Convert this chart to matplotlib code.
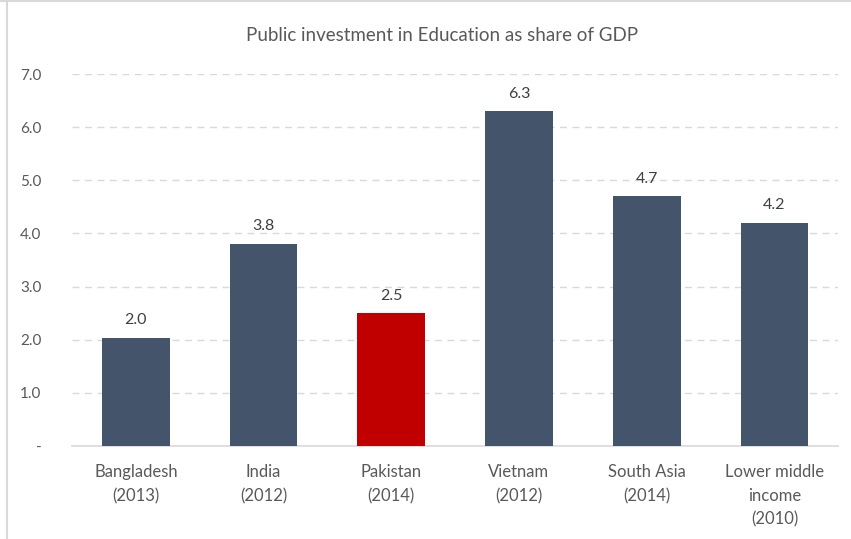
import matplotlib.pyplot as plt
from matplotlib.lines import Line2D

categories = ['Bangladesh\n(2013)', 'India\n(2012)', 'Pakistan\n(2014)',
              'Vietnam\n(2012)', 'South Asia\n(2014)', 'Lower middle\nincome\n(2010)']
values = [2.04, 3.8, 2.5, 6.3, 4.7, 4.2]
colors = ['#44546A', '#44546A', '#C00000', '#44546A', '#44546A', '#44546A']
yticks = [0, 1, 2, 3, 4, 5, 6, 7]
ytick_labels = ['-', '1.0', '2.0', '3.0', '4.0', '5.0', '6.0', '7.0']

plt.rcParams['font.family'] = ['Lato', 'DejaVu Sans']
txt = '#595959'

fig = plt.figure(figsize=(8.51, 5.39), dpi=100)
ax = fig.add_axes([0.0846, 0.1725, 0.9004, 0.6902])

x = range(len(categories))
ax.bar(x, values, width=0.53, color=colors, zorder=3)
for i, v in enumerate(values):
    ax.text(i, v + 0.2, f'{v:.1f}', ha='center', va='bottom', fontsize=11.5, color='#404040')

ax.set_ylim(0, 7)
ax.set_xlim(-0.5, len(categories) - 0.5)
ax.set_yticks(yticks)
ax.set_yticklabels(ytick_labels)
ax.set_xticks(list(x))
ax.set_xticklabels(categories, linespacing=1.6, fontsize=12)
ax.tick_params(axis='both', length=0, colors=txt)
ax.tick_params(axis='y', pad=22, labelsize=11)
ax.tick_params(axis='x', pad=13)
ax.yaxis.grid(True, color='#D9D9D9', linestyle=(0, (5, 4)), linewidth=1, zorder=0)
for s in ['top', 'right', 'left']:
    ax.spines[s].set_visible(False)
ax.spines['bottom'].set_color('#D9D9D9')
ax.spines['bottom'].set_linewidth(1.2)

fig.text(0.52, 0.935, 'Public investment in Education as share of GDP',
         ha='center', va='center', fontsize=13.5, color=txt)

# outer chart border (top and left visible)
fig.add_artist(Line2D([0.0, 1.0], [0.998, 0.998], color='#D9D9D9', lw=1.5, transform=fig.transFigure))
fig.add_artist(Line2D([0.008, 0.008], [0.0, 1.0], color='#D9D9D9', lw=1.5, transform=fig.transFigure))

fig.savefig('out.png', dpi=100)
